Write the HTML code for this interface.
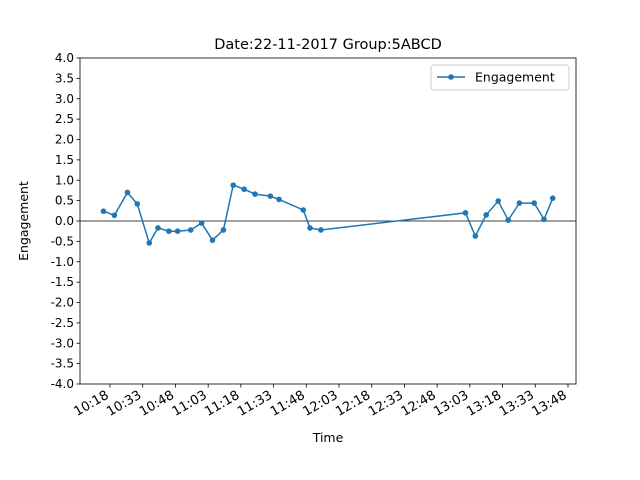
<!DOCTYPE html>
<html><head><meta charset="utf-8"><style>body{margin:0;background:#fff}svg{display:block;font-family:"DejaVu Sans","Liberation Sans",sans-serif}</style></head>
<body>
<svg id="chart" width="640" height="480" xmlns="http://www.w3.org/2000/svg"></svg>
<script>
const times = ["10:15","10:20","10:26","10:30.5","10:36","10:40","10:45","10:49","10:55","11:00","11:05","11:10","11:14.5","11:19.5","11:24.5","11:31.5","11:35.5","11:46.6","11:49.7","11:54.7","13:01","13:05.5","13:10.5","13:16","13:20.6","13:25.7","13:32.5","13:37","13:41"];
const engagement = [0.24,0.14,0.70,0.42,-0.54,-0.17,-0.25,-0.25,-0.22,-0.05,-0.47,-0.22,0.88,0.78,0.66,0.61,0.53,0.27,-0.17,-0.22,0.20,-0.37,0.15,0.49,0.02,0.44,0.44,0.04,0.56];
const xTickLabels = ["10:18","10:33","10:48","11:03","11:18","11:33","11:48","12:03","12:18","12:33","12:48","13:03","13:18","13:33","13:48"];
const yTicks = [4.0,3.5,3.0,2.5,2.0,1.5,1.0,0.5,0.0,-0.5,-1.0,-1.5,-2.0,-2.5,-3.0,-3.5,-4.0];

const NS="http://www.w3.org/2000/svg", svg=document.getElementById('chart');
const L=80,R=576,T=58,B=384;
function toMin(s){const [h,m]=s.split(':');return +h*60+parseFloat(m);}
const t0=toMin("10:18"), pxPerMin=(568-110)/210;
const x=t=>110+(toMin(t)-t0)*pxPerMin;
const y=v=>221-v*(B-T)/8;
function el(tag,attrs,parent){const e=document.createElementNS(NS,tag);for(const k in attrs)e.setAttribute(k,attrs[k]);(parent||svg).appendChild(e);return e;}

let e=el('text',{x:328,y:49,'text-anchor':'middle','font-size':14.5,fill:'#000'});e.textContent="Date:22-11-2017 Group:5ABCD";



e=el('line',{x1:L,x2:R,y1:y(0),y2:y(0),stroke:'#000','stroke-width':0.8});



const pts=times.map((t,i)=>x(t)+','+y(engagement[i])).join(' ');
e=el('polyline',{points:pts,fill:'none',stroke:'#1f77b4','stroke-width':1.5});


times.forEach((t,i)=>{
  const c=el('circle',{cx:x(t),cy:y(engagement[i]),r:2.8,fill:'#1f77b4'});
  
  
});

e=el('rect',{x:L,y:T,width:R-L,height:B-T,fill:'none',stroke:'#000','stroke-width':0.8});



yTicks.forEach(v=>{
  el('line',{x1:L-3.5,x2:L,y1:y(v),y2:y(v),stroke:'#000','stroke-width':0.8});
  const tx=el('text',{x:L-6,y:y(v)+4,'text-anchor':'end','font-size':12});
  tx.textContent=v.toFixed(1);
  
  
});
xTickLabels.forEach(s=>{
  const xx=x(s);
  el('line',{x1:xx,x2:xx,y1:B,y2:B+3.5,stroke:'#000','stroke-width':0.8});
  const ax=xx-6, ay=B+4;
  const tx=el('text',{x:ax,y:ay,'text-anchor':'end','dominant-baseline':'text-before-edge','font-size':13,transform:`rotate(-30 ${ax} ${ay})`});
  tx.textContent=s;
  
  
});
e=el('text',{x:328,y:442,'text-anchor':'middle','font-size':12.5});e.textContent="Time";


e=el('text',{x:28,y:221,'text-anchor':'middle','font-size':12.5,transform:'rotate(-90 28 221)'});e.textContent="Engagement";



const g=el('g',{});


el('rect',{x:431,y:65,width:138,height:25,rx:3,fill:'#fff',stroke:'#ccc','stroke-width':1},g);
el('line',{x1:437,x2:465,y1:77,y2:77,stroke:'#1f77b4','stroke-width':1.5},g);
el('circle',{cx:451,cy:77,r:2.8,fill:'#1f77b4'},g);
e=el('text',{x:475,y:81.5,'font-size':12.5},g);e.textContent="Engagement";


</script>
</body></html>
